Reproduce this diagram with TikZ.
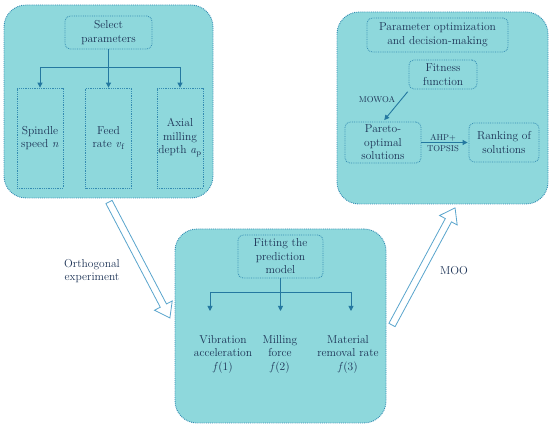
\documentclass[tikz,border=0pt]{standalone}
\usepackage{fontspec}
\usetikzlibrary{arrows.meta,calc}
\definecolor{panelc}{RGB}{142,216,220}
\definecolor{bordc}{RGB}{52,140,178}
\definecolor{arrc}{RGB}{36,120,160}
\definecolor{txtc}{RGB}{28,50,85}
\definecolor{bigc}{RGB}{90,165,205}
\newcommand\mainf{\fontsize{11.5}{13.5}\selectfont}
\newcommand\smallf{\fontsize{8.5}{9}\selectfont}
\begin{document}
\begin{tikzpicture}[x=1pt,y=-1pt,
 panel/.style={draw=bordc, densely dotted, line width=0.9pt, fill=panelc, rounded corners=22pt, inner sep=0pt},
 ibox/.style={draw=bordc, densely dotted, line width=0.8pt, rounded corners=5pt, inner sep=0pt, align=center, text=txtc, font=\mainf},
 sbox/.style={draw=bordc, densely dotted, line width=0.8pt, inner sep=0pt, align=center, text=txtc, font=\mainf},
 lab/.style={align=center, text=txtc, font=\mainf, inner sep=0pt},
 small/.style={text=txtc, font=\smallf, inner sep=0pt},
 ln/.style={draw=arrc, line width=0.9pt},
 arr/.style={draw=arrc, line width=0.9pt, -{Triangle[length=5pt,width=5pt]}},
 big/.style={draw=bigc, line width=0.8pt, fill=white}]
\useasboundingbox (0,0) rectangle (550,427);
% panels
\node[panel, minimum width=209pt, minimum height=193pt] (p1) at (108.5,101.5) {};
\node[panel, minimum width=211pt, minimum height=192pt] (p3) at (442.5,108) {};
\node[panel, minimum width=211pt, minimum height=194pt] (p2) at (280.5,326) {};
% panel 1
\node[ibox, minimum width=87pt, minimum height=33pt] (sel) at (108.5,32.5) {Select\\parameters};
\node[sbox, minimum width=46pt, minimum height=100pt] (spd) at (40,138) {Spindle\\speed \textit{n}};
\node[sbox, minimum width=46pt, minimum height=100pt] (feed) at (108.5,138) {Feed\\rate \textit{v}\textsubscript{f}};
\node[sbox, minimum width=46pt, minimum height=100pt] (axial) at (180,138) {Axial\\milling\\depth \textit{a}\textsubscript{p}};
\coordinate (j1) at (108.5,67);
\draw[ln] (spd.north |- j1) -- (axial.north |- j1);
\draw[arr] (sel.south) -- (feed.north);
\draw[arr] (spd.north |- j1) -- (spd.north);
\draw[arr] (axial.north |- j1) -- (axial.north);
% panel 3
\node[ibox, minimum width=141pt, minimum height=34pt] (title) at (437.5,35) {Parameter optimization\\and decision-making};
\node[ibox, minimum width=68pt, minimum height=29pt] (fit) at (443,74.5) {Fitness\\function};
\node[ibox, minimum width=76pt, minimum height=41pt] (par) at (383,142.5) {Pareto-\\optimal\\solutions};
\node[ibox, minimum width=70pt, minimum height=39pt] (rank) at (504,142.5) {Ranking of\\solutions};
\draw[arr, shorten <=3pt, shorten >=2pt] ([xshift=1pt]fit.south west) -- (par.north);
\draw[arr, shorten >=1pt] (par.east) -- (rank.west);
\node[small] (mowoa) at (377,100) {MOWOA};
\node[small] (ahp) at (443,137.5) {AHP+};
\node[small] (topsis) at (443,148.5) {TOPSIS};
% panel 2
\node[ibox, minimum width=85pt, minimum height=43pt] (fpm) at (280.5,256.5) {Fitting the\\prediction\\model};
\coordinate (j2) at (280.5,292);
\coordinate (t1) at (210,311);
\coordinate (t2) at (280.5,311);
\coordinate (t3) at (351,311);
\draw[ln] (t1 |- j2) -- (t3 |- j2);
\draw[arr] (fpm.south) -- (t2);
\draw[arr] (t1 |- j2) -- (t1);
\draw[arr] (t3 |- j2) -- (t3);
\node[lab] (vib) at (223,354) {Vibration\\acceleration\\\textit{f}(1)};
\node[lab] (mil) at (280,354) {Milling\\force\\\textit{f}(2)};
\node[lab] (mrr) at (348,354) {Material\\removal rate\\\textit{f}(3)};
% big arrows
\coordinate (oa) at (109,202);
\coordinate (ma) at (392,325);
\begin{scope}[shift={(oa)}, rotate=-62.3]
\draw[big] (0,-3.5) -- (117,-3.5) -- (117,-10) -- (131,0) -- (117,10) -- (117,3.5) -- (0,3.5) -- cycle;
\end{scope}
\begin{scope}[shift={(ma)}, rotate=61.7]
\draw[big] (0,-3.5) -- (119,-3.5) -- (119,-10) -- (133,0) -- (119,10) -- (119,3.5) -- (0,3.5) -- cycle;
\end{scope}
\node[lab] (orth) at (92,271) {Orthogonal\\experiment};
\node[lab] (moo) at (454,271) {MOO};
\end{tikzpicture}
\end{document}
